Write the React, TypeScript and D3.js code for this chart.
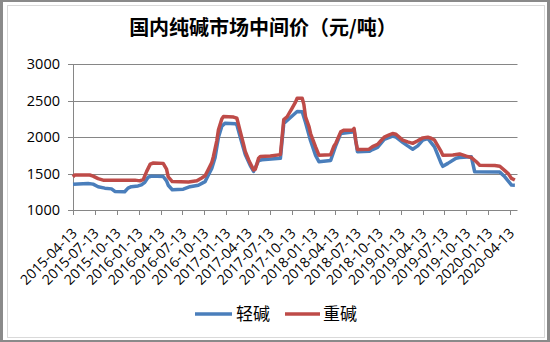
import React from "react";
import * as d3 from "d3";

const TITLE = "国内纯碱市场中间价（元/吨）";
const SERIES_NAMES = ["轻碱", "重碱"];
const Y_TICKS = [1000, 1500, 2000, 2500, 3000];
const X_TICK_LABELS = [
  "2015-04-13", "2015-07-13", "2015-10-13", "2016-01-13", "2016-04-13", "2016-07-13",
  "2016-10-13", "2017-01-13", "2017-04-13", "2017-07-13", "2017-10-13", "2018-01-13",
  "2018-04-13", "2018-07-13", "2018-10-13", "2019-01-13", "2019-04-13", "2019-07-13",
  "2019-10-13", "2020-01-13", "2020-04-13",
];

// 轻碱 (light soda ash)
const LIGHT_DATES = [
  "2015-04-13", "2015-06-15", "2015-07-06", "2015-07-27", "2015-08-24", "2015-09-21", "2015-10-05",
  "2015-11-15", "2015-11-29", "2015-12-13", "2016-01-10", "2016-01-24", "2016-02-07", "2016-02-21",
  "2016-03-06", "2016-04-24", "2016-05-08", "2016-05-15", "2016-06-01", "2016-07-17", "2016-08-14",
  "2016-09-18", "2016-10-16", "2016-10-30", "2016-11-13", "2016-11-27", "2016-12-11", "2016-12-25",
  "2017-01-08", "2017-02-19", "2017-02-26", "2017-03-12", "2017-04-02", "2017-04-23", "2017-05-07",
  "2017-05-28", "2017-06-11", "2017-08-27", "2017-09-10", "2017-10-15", "2017-11-05", "2017-11-26",
  "2017-12-10", "2017-12-31", "2018-01-21", "2018-02-04", "2018-03-25", "2018-04-15", "2018-05-06",
  "2018-06-24", "2018-07-01", "2018-07-15", "2018-09-02", "2018-09-16", "2018-10-07", "2018-11-04",
  "2018-12-09", "2018-12-23", "2019-01-20", "2019-02-10", "2019-03-03", "2019-03-24", "2019-04-14",
  "2019-05-05", "2019-06-02", "2019-06-30", "2019-07-07", "2019-07-28", "2019-08-31", "2019-09-15",
  "2019-11-03", "2019-11-17", "2020-03-01", "2020-03-22", "2020-04-19", "2020-05-03",
];
const LIGHT_VALUES = [
  1355, 1365, 1355, 1320, 1300, 1290, 1255,
  1250, 1300, 1320, 1330, 1345, 1380, 1450,
  1465, 1460, 1400, 1340, 1278, 1285, 1320,
  1340, 1390, 1480, 1570, 1720, 2000, 2150,
  2192, 2185, 2170, 2000, 1760, 1610, 1530,
  1680, 1690, 1710, 2190, 2290, 2352, 2350,
  2200, 1950, 1750, 1662, 1680, 1880, 2050,
  2070, 2090, 1800, 1805, 1830, 1860, 1970,
  2014, 2000, 1930, 1880, 1835, 1880, 1960,
  1982, 1867, 1640, 1600, 1640, 1710, 1720,
  1730, 1525, 1520, 1456, 1342, 1340,
];

// 重碱 (dense soda ash)
const HEAVY_DATES = [
  "2015-04-13", "2015-04-20", "2015-06-22", "2015-07-06", "2015-07-27", "2015-08-17", "2015-12-28",
  "2016-01-18", "2016-02-01", "2016-02-15", "2016-03-01", "2016-03-14", "2016-04-24", "2016-05-08",
  "2016-05-15", "2016-06-01", "2016-08-08", "2016-09-12", "2016-10-02", "2016-10-16", "2016-10-30",
  "2016-11-13", "2016-11-20", "2016-12-04", "2016-12-11", "2016-12-25", "2017-01-01", "2017-02-12",
  "2017-02-26", "2017-03-12", "2017-03-26", "2017-04-02", "2017-04-16", "2017-04-23", "2017-05-07",
  "2017-05-14", "2017-05-28", "2017-06-04", "2017-07-16", "2017-08-27", "2017-09-03", "2017-09-10",
  "2017-09-24", "2017-10-15", "2017-10-29", "2017-11-05", "2017-11-26", "2017-12-03", "2017-12-10",
  "2017-12-24", "2017-12-31", "2018-01-21", "2018-02-04", "2018-03-25", "2018-04-08", "2018-04-15",
  "2018-05-06", "2018-05-20", "2018-06-24", "2018-07-01", "2018-07-08", "2018-07-15", "2018-09-02",
  "2018-09-16", "2018-10-07", "2018-10-21", "2018-11-04", "2018-11-25", "2018-12-09", "2018-12-23",
  "2019-01-20", "2019-02-10", "2019-03-03", "2019-03-24", "2019-04-14", "2019-05-05", "2019-05-19",
  "2019-06-02", "2019-06-16", "2019-06-30", "2019-07-07", "2019-08-18", "2019-09-15", "2019-10-13",
  "2019-11-03", "2019-11-24", "2019-12-08", "2020-02-09", "2020-03-01", "2020-03-22", "2020-04-05",
  "2020-04-19", "2020-05-03",
];
const HEAVY_VALUES = [
  1455, 1480, 1480, 1465, 1430, 1410, 1410,
  1400, 1420, 1530, 1630, 1645, 1640, 1560,
  1455, 1390, 1385, 1400, 1440, 1470, 1560,
  1650, 1735, 1950, 2100, 2250, 2285, 2275,
  2260, 2080, 1900, 1804, 1690, 1640, 1550,
  1560, 1712, 1735, 1740, 1760, 2000, 2240,
  2280, 2400, 2480, 2534, 2534, 2450, 2278,
  2150, 2050, 1867, 1753, 1760, 1880, 1913,
  2073, 2096, 2096, 2120, 1950, 1830, 1835,
  1870, 1900, 1950, 2000, 2030, 2050, 2040,
  1960, 1935, 1915, 1950, 1990, 2000, 1985,
  1960, 1880, 1800, 1753, 1755, 1770, 1740,
  1720, 1662, 1615, 1610, 1600, 1540, 1500,
  1434, 1411,
];

const W = 550;
const H = 342;
const LATIN = "'Open Sans', 'Liberation Sans', sans-serif";
const CJK = "'Noto Sans CJK SC', sans-serif";
const BLUE = "#4A7EBB";
const RED = "#BE4B48";
const GRID = "#868686";

const parse = d3.timeParse("%Y-%m-%d");

export default function App() {
  const x = d3
    .scaleTime()
    .domain([parse("2015-04-13") as Date, parse("2020-05-14") as Date])
    .range([73, 517.5]);
  const y = d3.scaleLinear().domain([1000, 3000]).range([210, 64.3]);

  const light = LIGHT_DATES.map((d, i) => ({ d: parse(d) as Date, v: LIGHT_VALUES[i] }));
  const heavy = HEAVY_DATES.map((d, i) => ({ d: parse(d) as Date, v: HEAVY_VALUES[i] }));
  const line = d3
    .line<{ d: Date; v: number }>()
    .x((p) => x(p.d))
    .y((p) => y(p.v));

  const x0 = x.range()[0];
  const x1 = x.range()[1];
  const yBase = y(1000);

  return (
    <svg
      width={W}
      height={H}
      viewBox={`0 0 ${W} ${H}`}
      style={{ position: "fixed", left: 0, top: 0, background: "#fff" }}
    >
      <rect x={0} y={0} width={W} height={H} fill="#fff" />
      <rect x={1.5} y={0.5} width={W - 3} height={H - 1} fill="none" stroke="#8a8a8a" strokeWidth={3} />
      <rect x={7.5} y={5.5} width={537} height={332} fill="none" stroke="#d9d9d9" strokeWidth={1} />

      <text
        x={263}
        y={35}
        textAnchor="middle"
        fontFamily={CJK}
        fontWeight="bold"
        fontSize={20}
        fill="#000"
      >
        {TITLE}
      </text>

      {Y_TICKS.map((t) => (
        <g key={t}>
          {t !== 1000 && (
            <line x1={x0} x2={x1} y1={Math.round(y(t)) + 0.5} y2={Math.round(y(t)) + 0.5} stroke={GRID} strokeWidth={1} />
          )}
          <line x1={x0 - 5} x2={x0} y1={Math.round(y(t)) + 0.5} y2={Math.round(y(t)) + 0.5} stroke={GRID} />
          <text
            x={60}
            y={y(t) + 5}
            textAnchor="end"
            fontFamily={LATIN}
            fontSize={14.5}
            fill="#000"
          >
            {t}
          </text>
        </g>
      ))}

      <line x1={Math.round(x0) + 0.5} x2={Math.round(x0) + 0.5} y1={y(3000)} y2={yBase} stroke={GRID} />
      <line x1={x0} x2={x1} y1={Math.round(yBase) + 0.5} y2={Math.round(yBase) + 0.5} stroke={GRID} />

      {X_TICK_LABELS.map((lab) => {
        const tx = x(parse(lab) as Date);
        return (
          <g key={lab}>
            <line x1={Math.round(tx) + 0.5} x2={Math.round(tx) + 0.5} y1={yBase} y2={yBase + 5} stroke={GRID} />
            <text
              transform={`translate(${tx + 5},${yBase + 24}) rotate(-45)`}
              textAnchor="end"
              fontFamily={LATIN}
              fontSize={14}
              fill="#000"
            >
              {lab}
            </text>
          </g>
        );
      })}

      <path d={line(light) || ""} fill="none" stroke={BLUE} strokeWidth={3.5} strokeLinejoin="round" />
      <path d={line(heavy) || ""} fill="none" stroke={RED} strokeWidth={3.5} strokeLinejoin="round" />

      <line x1={195} x2={232} y1={314} y2={314} stroke={BLUE} strokeWidth={3.5} />
      <text x={236} y={320} fontFamily={CJK} fontSize={17} fill="#000">
        {SERIES_NAMES[0]}
      </text>
      <line x1={285} x2={320} y1={314} y2={314} stroke={RED} strokeWidth={3.5} />
      <text x={323} y={320} fontFamily={CJK} fontSize={17} fill="#000">
        {SERIES_NAMES[1]}
      </text>
    </svg>
  );
}
